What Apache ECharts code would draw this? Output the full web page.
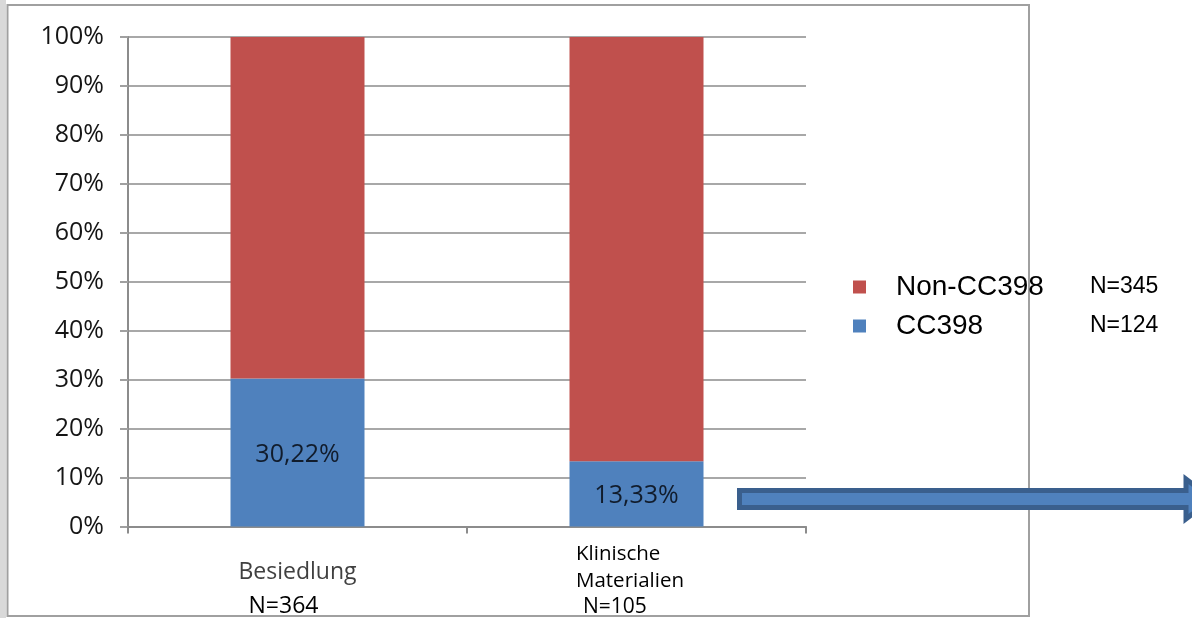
<!DOCTYPE html>
<html>
<head>
<meta charset="utf-8">
<script src="https://cdn.jsdelivr.net/npm/echarts@6/dist/echarts.min.js"></script>
<style>
html,body{margin:0;padding:0;background:#fff;}
#c{width:1192px;height:618px;}
</style>
</head>
<body>
<div id="c"></div>
<script>
// ---- data ----
const categories = ['Besiedlung', 'Klinische Materialien'];
const categoryN = ['N=364', 'N=105'];
const seriesNames = ['CC398', 'Non-CC398'];
const cc398 = [30.22, 13.33];
const nonCC398 = [69.78, 86.67];
const cc398Labels = ['30,22%', '13,33%'];
const legendN = { 'Non-CC398': 'N=345', 'CC398': 'N=124' };
const yTicks = [0, 10, 20, 30, 40, 50, 60, 70, 80, 90, 100];

const chart = echarts.init(document.getElementById('c'), null, { renderer: 'canvas' });

const option = {
  backgroundColor: '#ffffff',
  animation: false,
  grid: { left: 128, right: 386, top: 37, bottom: 91.5, containLabel: false },
  legend: {
    orient: 'vertical',
    left: 853,
    top: 273,
    padding: 0,
    itemWidth: 13,
    itemHeight: 13,
    itemGap: 11,
    data: [seriesNames[1], seriesNames[0]],
    icon: 'rect',
    formatter: function (name) {
      return '{a|' + name + '}{b|' + legendN[name] + '}';
    },
    textStyle: {
      rich: {
        a: { fontFamily: 'Liberation Sans, Arial', fontSize: 28, color: '#000', lineHeight: 30, width: 194, padding: [0, 0, 0, 25] },
        b: { fontFamily: 'Liberation Sans, Arial', fontSize: 23, color: '#000', lineHeight: 30 }
      }
    }
  },
  xAxis: {
    type: 'category',
    data: categories,
    boundaryGap: true,
    axisLine: { show: true, lineStyle: { color: '#8c8c8c', width: 2 } },
    axisTick: { show: true, length: 7, lineStyle: { color: '#8c8c8c', width: 2 } },
    axisLabel: {
      interval: 0,
      margin: 14,
      formatter: function (value, idx) {
        if (idx === 0) {
          return '{b|' + value + '}\n{n|' + categoryN[idx] + '}';
        }
        const parts = value.split(' ');
        return '{k|' + parts[0] + '}\n{k|' + parts[1] + '}\n{m|' + categoryN[idx] + '}';
      },
      rich: {
        b: { fontFamily: 'Open Sans', fontSize: 23, color: '#404040', lineHeight: 64, align: 'center' },
        n: { fontFamily: 'Open Sans', fontSize: 23, color: '#000', lineHeight: 4, align: 'center', padding: [0, 28, 0, 0] },
        k: { fontFamily: 'Open Sans', fontSize: 20.5, color: '#000', lineHeight: 27, align: 'left', padding: [0, 13, 0, 0] },
        m: { fontFamily: 'Open Sans', fontSize: 21, color: '#000', lineHeight: 26, align: 'left', padding: [0, 0, 0, 7] }
      }
    },
    splitLine: { show: false }
  },
  yAxis: {
    type: 'value',
    min: 0,
    max: 100,
    interval: 10,
    axisLine: { show: true, lineStyle: { color: '#8c8c8c', width: 2 } },
    axisTick: { show: true, length: 8, lineStyle: { color: '#a0a0a0', width: 2 } },
    axisLabel: {
      margin: 24,
      fontFamily: 'Open Sans',
      fontSize: 25,
      color: '#151515',
      formatter: function (v) { return yTicks.indexOf(v) >= 0 ? v + '%' : ''; }
    },
    splitLine: { show: true, lineStyle: { color: '#a8a8a8', width: 2 } }
  },
  series: [
    {
      name: seriesNames[0],
      type: 'bar',
      stack: 'total',
      barWidth: 134,
      data: cc398,
      itemStyle: { color: '#4f81bd' },
      label: {
        show: true,
        position: 'inside',
        offset: [0, 2],
        fontFamily: 'Open Sans',
        fontSize: 25,
        color: '#111c2c',
        formatter: function (p) { return cc398Labels[p.dataIndex]; }
      }
    },
    {
      name: seriesNames[1],
      type: 'bar',
      stack: 'total',
      barWidth: 134,
      data: nonCC398,
      itemStyle: { color: '#c0504d' }
    }
  ],
  graphic: [
    { type: 'rect', shape: { x: 0, y: 0, width: 6, height: 618 }, style: { fill: '#d9d9d9' }, silent: true, z: 0 },
    { type: 'rect', shape: { x: 7.5, y: 5, width: 1021.5, height: 611 }, style: { fill: 'none', stroke: '#a0a0a0', lineWidth: 2 }, silent: true, z: 0 },
    {
      type: 'polygon',
      shape: { points: [[739.5, 490.5], [1186, 490.5], [1186, 479], [1212, 499], [1186, 519], [1186, 507.5], [739.5, 507.5]] },
      style: { fill: '#4f81bd', stroke: '#3a5f8d', lineWidth: 5 },
      silent: true,
      z: 100
    }
  ]
};

chart.setOption(option);
</script>
</body>
</html>
